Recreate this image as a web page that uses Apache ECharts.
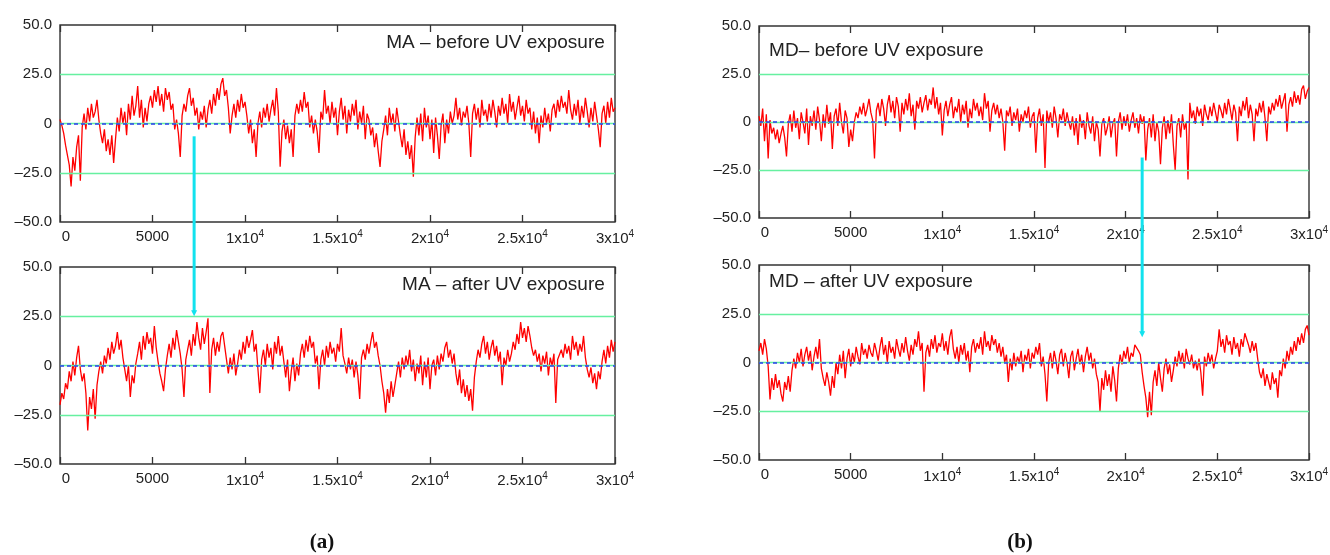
<!DOCTYPE html>
<html>
<head>
<meta charset="utf-8">
<script src="https://cdn.jsdelivr.net/npm/echarts@6/dist/echarts.min.js"></script>
<style>
html, body { margin: 0; padding: 0; background: #fff; }
#chart { width: 1330px; height: 555px; }
</style>
</head>
<body>
<div id="chart"></div>
<script>
const maBefore = [
  2, -1, -5, -11, -16, -21, -32, -17, -24, -12,
  -6, -29, -2, 5, -3, 8, 1, 10, 3, 6,
  12, 2, -5, -10, -3, -14, -8, -16, -6, -20,
  -8, 3, -4, 8, 0, 6, -6, 10, 2, 14,
  4, 9, 19, 3, 12, -2, 8, 1, 10, 14,
  8, 17, 11, 19, 9, 15, 6, 18, 12, 16,
  7, 10, -3, 2, -5, -17, 4, 10, 6, 14,
  18, 9, 13, 4, 8, -3, 6, 2, 9, -2,
  7, 12, 5, 15, 9, 18, 12, 20, 23, 14,
  17, 8, -5, 4, 10, 3, 12, 6, 15, 8,
  11, 4, -5, 2, -10, -3, -17, 0, 6, -2,
  8, 3, 10, 1, 7, 12, 4, 18, 6, -22,
  -4, 2, -8, -1, -10, -3, -17, 4, 10, 5,
  12, 6, 16, 8, 11, -2, 4, -5, 2, -4,
  -15, 6, 2, 17, 5, 9, 0, 11, 3, 8,
  -6, 6, 13, 2, 9, -5, 7, 1, 10, 4,
  12, -3, 6, 0, 9, -8, 5, 2, -6, -2,
  -12, -5, -14, -22, -9, -3, 4, -6, 8, 0,
  5, -4, 8, 1, -6, -12, -3, -16, -9, -18,
  -11, -27, -7, 3, -6, 5, -9, 8, -2, 4,
  -8, 2, -15, 3, -6, -18, -1, 5, -10, 2,
  -5, 6, 0, 4, 13, 2, 8, -1, 6, 3,
  9, 0, -17, 5, 10, 2, 8, -2, 12, 4,
  7, 1, 10, 3, 12, 6, -2, 9, 4, 13,
  5, 10, 0, 15, 6, 11, 2, 8, 14, 4,
  9, 1, 12, 5, 8, -3, 6, -5, 3, -10,
  4, -2, 8, 0, 5, -4, 7, 10, 3, 12,
  6, 14, 8, 11, 5, 17, 7, 2, 10, 4,
  12, 0, 9, 3, 13, 6, -2, 8, 1, 11,
  4, -3, -12, 5, 9, 0, 11, 3, 13, 6,
  8
]

const maAfter = [
  -20, -14, -17, -9, -12, -3, -8, 2, -5, 4,
  10, -2, -8, -4, -14, -33, -16, -22, -12, -27,
  -10, -3, 2, -4, 5, 1, 9, 3, 12, 6,
  10, 17, 8, 13, 4, -2, -8, 0, -16, -5,
  -9, 1, 6, 12, 3, 15, 8, 17, 11, 14,
  6, 20, 9, 2, -4, -8, -13, -2, 5, 11,
  4, 14, 8, 18, 12, 6, -2, -16, 3, 8,
  13, 5, 16, 10, 22, 14, 8, 19, 11, 17,
  24, -14, 8, 14, 5, 12, 7, 15, 17, 10,
  3, -4, 4, -2, 6, -5, 1, 8, 3, 12,
  6, 15, 9, 13, 18, 7, 11, -2, -14, 3,
  8, 0, 11, 4, 9, -2, 12, 6, 15, 5,
  10, 2, -6, 3, -13, -3, 4, -8, 1, -5,
  6, 11, 4, 13, 7, 15, 9, 12, 1, 5,
  -12, 3, 8, 0, 10, 4, 12, 6, 9, 2,
  11, 7, 19, 5, 1, -4, 4, -2, 3, -6,
  2, -5, -17, 4, 8, 3, 11, 6, 12, 17,
  9, 12, 5, 0, -8, -14, -24, -12, -19, -8,
  -16, -10, -4, 2, -6, 4, -2, 5, 0, 8,
  -3, 3, -8, 1, -4, 5, -10, 2, -6, 4,
  -12, 0, 3, -5, 5, -2, 6, 2, 9, 12,
  4, 8, 1, 6, -4, -10, -2, -14, -7, -16,
  -10, -18, -12, -23, -6, 2, 8, 4, 11, 15,
  6, 12, 3, 9, 13, 5, 10, 2, 7, -10,
  4, 0, 8, 2, 6, 12, 8, 16, 11, 22,
  14, 19, 12, 20, 15, 9, 5, 8, 2, 6,
  -3, 5, 1, 7, -5, 4, 0, 6, -19, 3,
  2, 8, 4, 11, 6, 10, 3, 15, 8, 12,
  5, 11, 7, 15, 4, -2, -6, -1, -9, -4,
  -12, -3, -7, 2, 8, 1, 10, 4, 13, 7,
  12
]

const mdBefore = [
  3, -2, 7, -10, 4, -19, 1, -6, -3, -9,
  -4, -11, -6, -2, -8, -18, -1, 4, -5, 6,
  -3, 2, -9, 5, 0, -6, 7, -12, 3, -2,
  6, -4, 8, 1, -10, 4, -3, 9, -1, 5,
  -14, 3, 7, -2, 10, 0, -6, 6, 2, -13,
  -4, -10, 0, 5, 2, 8, 4, 10, 3, 7,
  12, 5, 1, -19, 6, 10, 3, 12, 7, -2,
  9, 14, 5, 11, 2, 13, 8, -5, 10, 4,
  12, 6, 15, 3, 9, -4, 11, 7, 13, 5,
  10, 14, 6, 12, 9, 18, 7, 13, 4, 10,
  -7, 6, 11, 3, 9, 13, 2, 8, 5, 12,
  0, 9, 4, 11, -3, 7, 2, 12, 6, 10,
  3, 8, 1, 15, 7, 11, -5, 6, 10, 4,
  9, 2, 7, 0, -15, 6, 3, 8, -2, 5,
  1, 7, -5, 4, 0, 6, 2, 8, -3, 3,
  5, -16, 2, 7, -2, 4, -24, 6, 0, 5,
  -3, 8, 2, -8, 4, 1, 7, -2, 5, 0,
  -4, 3, -7, 2, -12, 4, -3, 1, -9, 5,
  -2, -6, 3, -10, 0, -4, -18, -1, 2, -7,
  -3, 3, -8, -1, 2, -18, 0, 5, -4, 3,
  -2, 4, -5, 1, 5, -3, 2, -6, 4, -1,
  3, -20, -4, 2, -8, 4, -10, 0, -5, -22,
  -3, 3, -9, 1, -6, 4, -12, -25, -2, 2,
  -8, 4, -4, 0, -30, 10, 2, 6, -1, 8,
  3, 7, -2, 9, 4, 1, 8, 3, 10, 5,
  0, 9, 6, 2, 10, 4, 12, 7, 1, 9,
  5, -10, 8, 3, 11, 6, 13, 2, 9, 4,
  -10, 7, 3, 10, 5, 11, 2, -10, 8, 4,
  10, 6, 12, 8, 14, 7, 11, 15, -5, 9,
  13, 8, 16, 10, 14, 9, 17, 19, 12, 16,
  18
]

const mdAfter = [
  6, 10, 4, 12, 7, -2, -19, -8, -14, -6,
  -13, -9, -16, -20, -10, -14, -7, -15, -4, 2,
  -3, 5, 0, 7, -2, 4, 8, 1, 6, -4,
  3, 8, 2, 12, -3, -8, -12, -5, -10, -17,
  -7, -13, 0, -6, 4, -3, 6, -8, 2, 7,
  -2, 5, 0, 8, 3, -1, 10, 4, 7, 2,
  9, 5, 3, 10, 6, 1, 8, 13, 4, 9,
  0, 11, 5, 8, 2, 12, 7, 3, 10, 5,
  13, 6, 1, 9, 4, 12, 8, 16, 6, 10,
  -15, 5, 9, 3, 12, 7, 14, 5, 10, 8,
  15, 6, 11, 4, 13, 17, 7, 2, 8, 0,
  9, 4, 10, 1, 6, -5, 8, 12, 5, 10,
  7, 13, 4, 16, 8, 11, 6, 14, 9, 12,
  5, 10, 3, 8, 0, 4, -10, 2, -4, 5,
  -2, 3, 0, 6, -5, 4, 1, 7, -3, 5,
  2, 8, 4, 10, -2, 3, -6, -20, 0, 5,
  -3, 6, 1, -6, 4, 7, -2, 5, 0, -8,
  3, 6, -4, 2, 7, -1, 4, -5, 3, 8,
  1, 5, -3, 2, -6, -10, -25, -8, -14, -4,
  -12, -6, -15, -2, -9, -20, -3, 4, -1, 6,
  2, 8, 0, 5, 3, 9, 10, 6, 4, -5,
  -12, -18, -28, -15, -27, -10, -4, -12, 0, -8,
  -15, -3, 2, -6, -1, -10, -4, 3, -2, 6,
  0, 5, -3, 7, 2, -1, 4, -3, 1, -4,
  2, -5, -17, 3, -2, 5, 0, 4, -3, 2,
  6, 17, 8, 12, 5, 14, 9, 11, 4, 13,
  7, 10, 3, 12, 8, 15, 16, 9, 5, 11,
  6, 10, 2, -5, -8, -3, -12, -6, -10, -14,
  -5, -11, -8, -18, -4, -7, 2, -3, 6, 1,
  8, 4, 11, 6, 13, 9, 15, 10, 17, 19,
  14
]

const xMax = 30000
const xTickLabels = {0: '0', 5000: '5000', 10000: '1x10^4', 15000: '1.5x10^4', 20000: '2x10^4', 25000: '2.5x10^4', 30000: '3x10^4'}
const yTickLabels = {'-50': '\u201350.0', '-25': '\u201325.0', '0': '0', '25': '25.0', '50': '50.0'}
const panelTitles = ['MA \u2013 before UV exposure', 'MA \u2013 after UV exposure', 'MD\u2013 before UV exposure', 'MD \u2013 after UV exposure']
const panelData = [maBefore, maAfter, mdBefore, mdAfter]

const font = '"Liberation Sans", Arial, sans-serif'
const ink = '#222'
const frame = '#333'

const grids = [
  { left: 60, top: 25, width: 555, height: 197 },
  { left: 60, top: 267, width: 555, height: 197 },
  { left: 759, top: 26, width: 550, height: 192 },
  { left: 759, top: 265, width: 550, height: 195 }
]

function fmtX(v) {
  const s = xTickLabels[v]
  if (s === undefined) return ''
  if (v === 0) return '{z|0}'
  const p = s.split('^')
  return p.length > 1 ? '{n|' + p[0] + '}{s|' + p[1] + '}' : '{n|' + s + '}'
}

const xAxis = []
const yAxis = []
const series = []
grids.forEach((g, i) => {
  const tick = { inside: true, length: 7, lineStyle: { color: frame, width: 1.3 } }
  xAxis.push({
    type: 'value', gridIndex: i, min: 0, max: xMax, interval: 5000, position: 'bottom',
    axisLine: { show: false, onZero: false }, axisTick: tick, splitLine: { show: false },
    axisLabel: {
      margin: 7, formatter: fmtX, showMinLabel: true, showMaxLabel: true,
      rich: {
        n: { fontSize: 15, color: ink, fontFamily: font },
        z: { fontSize: 15, color: ink, fontFamily: font, padding: [0, 0, 0, 12] },
        s: { fontSize: 10, color: ink, fontFamily: font, padding: [0, 0, 9, 0] }
      }
    }
  })
  xAxis.push({
    type: 'value', gridIndex: i, min: 0, max: xMax, interval: 5000, position: 'top',
    axisLine: { show: false, onZero: false }, axisTick: tick, splitLine: { show: false },
    axisLabel: { show: false }
  })
  yAxis.push({
    type: 'value', gridIndex: i, min: -50, max: 50, interval: 25,
    axisLine: { show: false, onZero: false }, axisTick: { show: false }, splitLine: { show: false },
    axisLabel: {
      margin: 8, color: ink, fontSize: 15, fontFamily: font,
      formatter: v => yTickLabels[v] || ''
    }
  })
  const vals = panelData[i]
  const dx = xMax / (vals.length - 1)
  const green = { color: '#66f0a0', width: 1.3, type: 'solid' }
  series.push({
    type: 'line', xAxisIndex: i * 2, yAxisIndex: i,
    data: vals.map((v, k) => [k * dx, v]),
    showSymbol: false, symbol: 'none',
    lineStyle: { color: '#ff0000', width: 1.3 },
    markLine: {
      silent: true, symbol: 'none', label: { show: false },
      data: [
        { yAxis: 25, lineStyle: green },
        { yAxis: -25, lineStyle: green },
        { yAxis: 0, lineStyle: green },
        { yAxis: 0, lineStyle: { color: '#2a3cf0', width: 1.5, type: [4, 3] } }
      ]
    }
  })
})

const chart = echarts.init(document.getElementById('chart'))
chart.setOption({
  animation: false,
  backgroundColor: '#fff',
  grid: grids.map(g => Object.assign({
    show: true, borderColor: frame, borderWidth: 1.4, backgroundColor: 'transparent',
    outerBoundsMode: 'none'
  }, g)),
  xAxis,
  yAxis,
  series
})

// annotations: panel titles, cyan arrows linking the panels, sub-figure labels
const px = (gi, pt) => chart.convertToPixel({ gridIndex: gi }, pt)
const graphic = []
const titlePos = [
  { g: 0, pt: [29450, 41], align: 'right' },
  { g: 1, pt: [29450, 41], align: 'right' },
  { g: 2, pt: [550, 37], align: 'left' },
  { g: 3, pt: [550, 41.5], align: 'left' }
]
titlePos.forEach((t, i) => {
  const p = px(t.g, t.pt)
  graphic.push({
    type: 'text', x: p[0], y: p[1], silent: true,
    style: { text: panelTitles[i], font: '19px ' + font, fill: ink, align: t.align, verticalAlign: 'middle' }
  })
})

const arrows = [
  { from: [0, 7250, -6.5], to: [1, 7250, 25] },
  { from: [2, 20900, -18.5], to: [3, 20900, 13] }
]
arrows.forEach(a => {
  const p0 = px(a.from[0], a.from.slice(1))
  const p1 = px(a.to[0], a.to.slice(1))
  graphic.push({
    type: 'line', silent: true, z: 100,
    shape: { x1: p0[0], y1: p0[1], x2: p1[0], y2: p1[1] - 4 },
    style: { stroke: '#12e2ee', lineWidth: 3 }
  })
  graphic.push({
    type: 'polygon', silent: true, z: 100,
    shape: { points: [[p1[0] - 3, p1[1] - 6], [p1[0] + 3, p1[1] - 6], [p1[0], p1[1]]] },
    style: { fill: '#12e2ee' }
  })
})

const subLabels = [['(a)', 322], ['(b)', 1020]]
subLabels.forEach(s => {
  graphic.push({
    type: 'text', x: s[1], y: 543, silent: true,
    style: { text: s[0], font: 'bold 21px "Liberation Serif", "DejaVu Serif", serif', fill: '#111', align: 'center', verticalAlign: 'middle' }
  })
})

chart.setOption({ graphic })
</script>
</body>
</html>
